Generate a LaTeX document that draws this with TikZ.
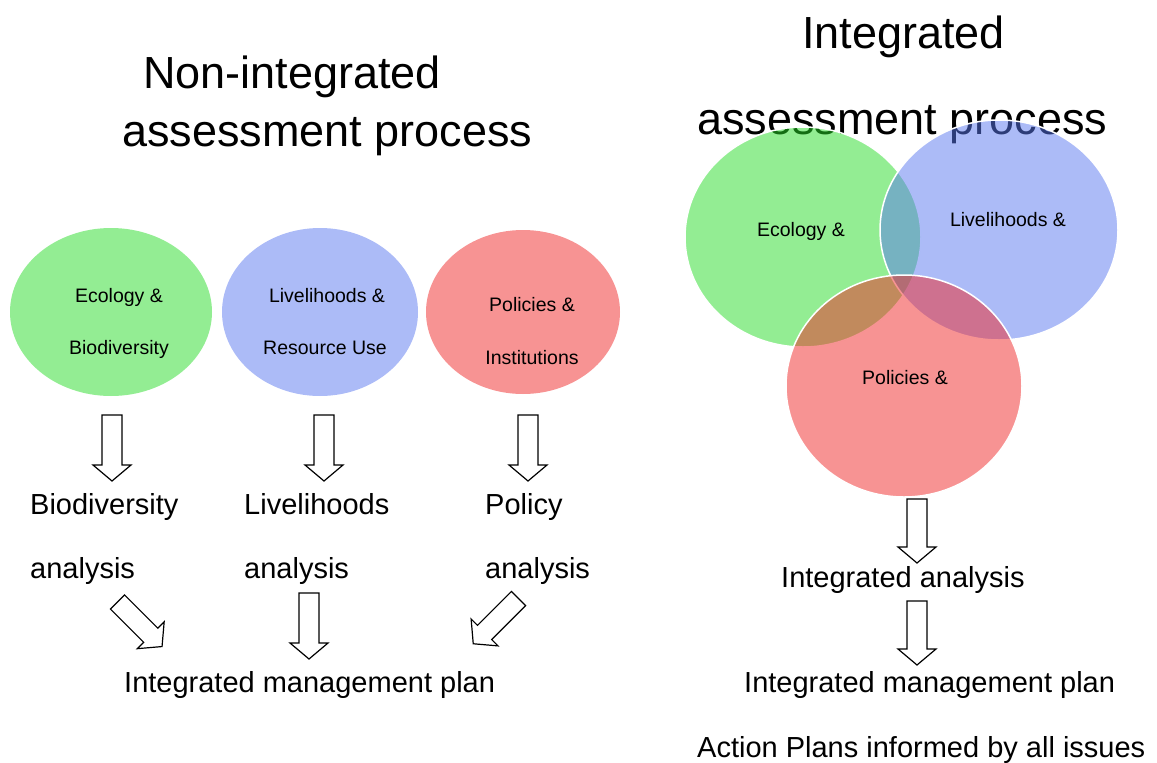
\documentclass[tikz,border=0pt]{standalone}
\usepackage{fontspec}
\setmainfont{Liberation Sans}
\definecolor{cgreen}{RGB}{40,220,40}
\definecolor{cblue}{RGB}{90,120,240}
\definecolor{cred}{RGB}{240,40,40}
\tikzset{
  title/.style={anchor=base west,inner sep=0pt,font=\fontsize{45}{54}\selectfont},
  big/.style={anchor=base west,inner sep=0pt,font=\fontsize{29}{35}\selectfont},
  small/.style={anchor=base,inner sep=0pt,font=\fontsize{19.5}{23}\selectfont},
  blob/.style={fill opacity=0.5},
  vblob/.style={fill opacity=0.5,draw=white,line width=1.5pt,draw opacity=1},
  barrowstyle/.style={draw=black,fill=white,line width=1.2pt,line join=miter},
  barrow/.pic={
    \path[barrowstyle] (-10,0) -- (10,0) -- (10,#1) -- (19,#1) -- (0,#1+16)
      -- (-19,#1) -- (-10,#1) -- cycle;
  }
}
\begin{document}
\begin{tikzpicture}[x=1pt,y=-1pt]
\useasboundingbox (0,0) rectangle (1157,763);
% titles
\node[title] (t1a) at (143,88) {Non-integrated};
\node[title] (t1b) at (122,146) {assessment process};
\node[title] (t2a) at (802,48) {Integrated};
\node[title] (t2b) at (697,134) {assessment process};
% left circles
\fill[cgreen,blob] (111,312) ellipse [x radius=101,y radius=84];
\fill[cblue,blob] (320,312) ellipse [x radius=98,y radius=84];
\fill[cred,blob] (523,312) ellipse [x radius=97,y radius=82];
\node[small] (e1) at (119,302) {Ecology \&};
\node[small] (e2) at (119,354) {Biodiversity};
\node[small] (l1) at (327,302) {Livelihoods \&};
\node[small] (l2) at (325,354) {Resource Use};
\node[small] (p1) at (532,311) {Policies \&};
\node[small] (p2) at (532,364) {Institutions};
% left arrows
\pic at (112,415) {barrow=50};
\pic at (324,415) {barrow=50};
\pic at (528,415) {barrow=50};
\node[big] (a1) at (30,514) {Biodiversity};
\node[big] (a2) at (30,578) {analysis};
\node[big] (b1) at (244,514) {Livelihoods};
\node[big] (b2) at (244,578) {analysis};
\node[big] (c1) at (485,514) {Policy};
\node[big] (c2) at (485,578) {analysis};
\pic[rotate=45] at (117.5,602) {barrow=47};
\pic at (309,593) {barrow=50};
\pic[rotate=-45] at (518.5,598.5) {barrow=48};
\node[big] (imp1) at (124,692) {Integrated management plan};
% Venn
\path[fill=cgreen,vblob] (803,237) ellipse [x radius=118,y radius=110];
\path[fill=cblue,vblob] (999,230) ellipse [x radius=119,y radius=110];
\path[fill=cred,vblob] (904,386) ellipse [x radius=118,y radius=111];
\node[small] (ve) at (801,236) {Ecology \&};
\node[small] (vl) at (1008,226) {Livelihoods \&};
\node[small] (vp) at (905,384) {Policies \&};
\pic at (917,499) {barrow=48};
\node[big] (ia) at (781,587) {Integrated analysis};
\pic at (917,601) {barrow=48};
\node[big] (imp2) at (744,692) {Integrated management plan};
\node[big] (ap) at (697,757) {Action Plans informed by all issues};
\end{tikzpicture}
\end{document}
